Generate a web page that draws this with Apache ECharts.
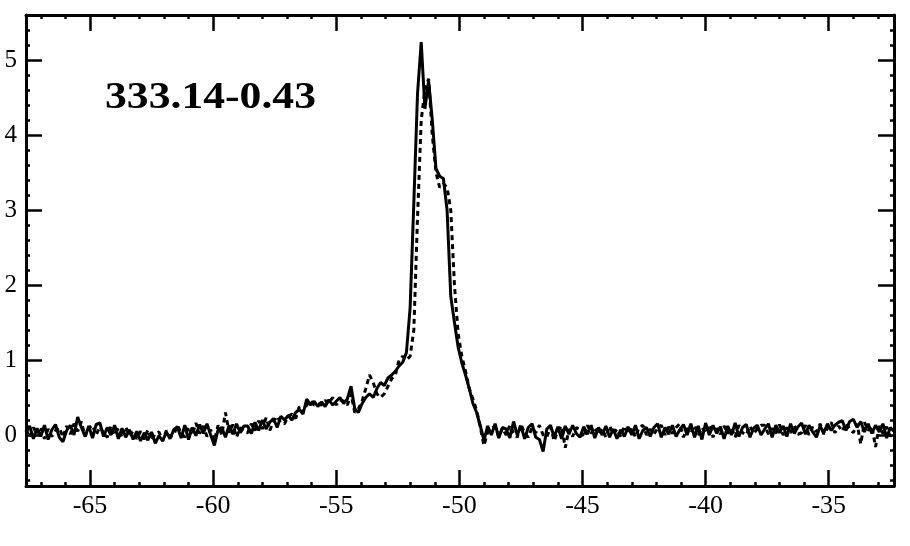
<!DOCTYPE html>
<html>
<head>
<meta charset="utf-8">
<script src="https://cdn.jsdelivr.net/npm/echarts@6/dist/echarts.min.js"></script>
<style>
html,body{margin:0;padding:0;background:#fff;}
#chart{width:910px;height:546px;}
</style>
</head>
<body>
<div id="chart"></div>
<script>
// Channel axis (km/s): first channel and channel width
const velStart = -67.6;
const velStep = 0.15;

// Solid spectrum (one row = 10 channels = 1.5 km/s)
const solidValues = [
  0.03, 0.12, -0.05, 0.09, -0.02, 0.13, -0.06, 0.07, 0.14, -0.03,
  -0.09, 0.06, 0.13, 0.0, 0.24, 0.1, -0.02, 0.12, -0.04, 0.14,
  0.16, -0.02, 0.1, 0.0, 0.13, -0.05, 0.09, -0.03, 0.07, -0.06,
  0.05, -0.08, 0.03, -0.07, 0.04, -0.11, -0.01, -0.08, 0.04, -0.05,
  0.07, 0.11, -0.04, 0.13, -0.06, 0.1, -0.01, 0.14, 0.02, 0.15,
  0.0, -0.14, 0.07, 0.1, -0.03, 0.13, 0.01, 0.15, 0.03, 0.12,
  0.12, 0.02, 0.17, 0.06, 0.2, 0.08, 0.17, 0.22, 0.1, 0.25,
  0.2, 0.26, 0.2, 0.3, 0.34, 0.28, 0.48, 0.4, 0.45, 0.38,
  0.44, 0.38, 0.47, 0.4, 0.45, 0.5, 0.42, 0.48, 0.65, 0.35,
  0.3, 0.42, 0.5, 0.55, 0.5, 0.62, 0.7, 0.66, 0.76, 0.8,
  0.85, 0.92, 0.97, 1.1, 1.7, 3.1, 4.55, 5.24, 4.35, 4.72,
  4.2, 3.55, 3.45, 3.42, 3.0, 1.85, 1.5, 1.17, 0.96, 0.8,
  0.62, 0.42, 0.3, 0.12, -0.07, 0.12, 0.0, 0.15, -0.04, 0.1,
  0.08, -0.04, 0.18, 0.0, 0.12, -0.05, 0.1, 0.15, -0.03, -0.06,
  -0.22, 0.08, 0.13, -0.03, 0.11, -0.05, 0.12, 0.01, 0.13, 0.02,
  -0.03, 0.11, 0.01, 0.13, -0.04, 0.1, 0.0, 0.12, -0.03, 0.08,
  -0.05, 0.07, -0.02, 0.11, 0.0, 0.13, -0.05, 0.06, 0.1, -0.02,
  0.1, 0.15, -0.03, 0.1, 0.01, 0.13, -0.02, 0.07, 0.14, 0.0,
  0.15, -0.03, 0.12, -0.06, 0.16, 0.0, 0.13, 0.02, 0.11, -0.05,
  0.12, 0.0, 0.16, -0.02, 0.1, 0.14, -0.03, 0.09, 0.13, 0.0,
  0.08, 0.15, -0.03, 0.13, 0.03, 0.12, -0.02, 0.15, 0.02, 0.11,
  0.16, 0.01, 0.13, 0.04, -0.03, 0.12, 0.03, 0.15, 0.06, 0.13,
  0.17, 0.19, 0.06, 0.18, 0.21, 0.1, 0.18, 0.04, 0.15, 0.02,
  0.13, 0.04, 0.15, -0.04, 0.1, 0.05
];

// Dotted spectrum (same channels)
const dottedValues = [
  0.07, -0.03, 0.1, 0.01, 0.11, -0.05, 0.08, -0.02, 0.06, 0.1,
  -0.03, 0.12, 0.01, 0.15, 0.05, 0.18, -0.02, 0.09, 0.13, 0.0,
  0.11, 0.03, -0.03, 0.12, 0.0, 0.09, -0.03, 0.11, -0.01, 0.05,
  -0.05, 0.05, -0.06, 0.07, -0.07, 0.02, 0.04, -0.08, 0.06, -0.02,
  0.0, 0.13, 0.03, -0.03, 0.11, 0.0, 0.16, 0.02, 0.12, -0.02,
  0.07, -0.08, 0.13, 0.0, 0.3, 0.03, 0.14, -0.03, 0.1, 0.04,
  0.03, 0.15, 0.06, 0.19, 0.08, 0.23, 0.06, 0.18, 0.25, 0.16,
  0.15, 0.25, 0.28, 0.22, 0.38, 0.3, 0.4, 0.46, 0.4, 0.42,
  0.4, 0.46, 0.42, 0.5, 0.4, 0.47, 0.45, 0.4, 0.55, 0.3,
  0.35, 0.45, 0.62, 0.8, 0.7, 0.55, 0.5, 0.55, 0.65, 0.75,
  0.8, 1.0, 1.05, 1.0, 1.05, 1.4, 2.9, 4.2, 4.6, 4.75,
  4.0, 3.5, 3.3, 3.35, 3.3, 3.0, 2.0, 1.35, 1.05, 0.85,
  0.62, 0.48, 0.33, 0.1, -0.14, 0.04, 0.08, 0.12, -0.02, 0.09,
  0.0, 0.13, 0.03, -0.03, 0.15, 0.02, -0.03, 0.1, 0.03, 0.13,
  0.0, -0.03, 0.11, -0.08, 0.06, 0.12, -0.17, 0.08, -0.02, 0.1,
  0.07, -0.03, 0.13, 0.02, 0.1, 0.0, 0.08, -0.03, 0.12, 0.01,
  0.08, -0.02, 0.12, 0.01, 0.09, -0.03, 0.1, 0.13, 0.0, 0.08,
  0.01, 0.09, 0.13, 0.0, 0.11, 0.02, 0.1, 0.15, -0.03, 0.09,
  0.03, 0.13, 0.0, 0.1, 0.02, 0.14, -0.03, 0.09, 0.01, 0.12,
  0.02, 0.1, -0.03, 0.13, 0.03, 0.0, 0.12, 0.02, 0.08, 0.13,
  0.13, 0.01, 0.09, 0.02, 0.14, 0.0, 0.1, 0.03, 0.13, 0.01,
  0.03, 0.13, 0.0, 0.11, 0.04, 0.15, 0.01, 0.09, 0.17, 0.03,
  0.12, 0.05, 0.16, 0.08, 0.03, 0.15, -0.12, 0.17, 0.06, 0.12,
  -0.16, 0.12, 0.02, 0.11, -0.02, 0.08
];

// Axis ranges and tick labels
const xRange = [-67.6, -32.35];
const yRange = [-0.68, 5.6];
const xMajorTicks = [-65, -60, -55, -50, -45, -40, -35];
const yMajorTicks = [0, 1, 2, 3, 4, 5];
const xMinorStep = 1;
const yMinorStep = 0.2;
const titleText = '333.14-0.43';

// ---- build ----
const velocities = solidValues.map((_, i) => +(velStart + i * velStep).toFixed(3));
const solidData = velocities.map((v, i) => [v, solidValues[i]]);
const dottedData = velocities.map((v, i) => [v, dottedValues[i]]);

function steps(lo, hi, step) {
  const out = [];
  const s = Math.ceil(lo / step - 1e-9);
  for (let k = s; k * step <= hi + 1e-9; k++) out.push(+(k * step).toFixed(4));
  return out;
}
const xMinorTicks = steps(xRange[0], xRange[1], xMinorStep);
const yMinorTicks = steps(yRange[0], yRange[1], yMinorStep);

const FONT = '"Liberation Serif", "Times New Roman", serif';
const LINE = { show: true, onZero: false, lineStyle: { color: '#000', width: 3 } };
const NOLINE = { show: false, onZero: false };

function axisDef(kind, pos, ticks, len, withLabels, withLine) {
  const range = kind === 'x' ? xRange : yRange;
  return {
    type: 'value', position: pos, min: range[0], max: range[1],
    axisLine: withLine ? LINE : NOLINE,
    splitLine: { show: false },
    axisTick: { show: true, inside: true, length: len, customValues: ticks, lineStyle: { color: '#000', width: 2.5 } },
    axisLabel: withLabels
      ? { show: true, customValues: ticks, color: '#000', fontFamily: FONT, fontSize: kind === 'x' ? 26 : 25, margin: kind === 'x' ? 7 : 9 }
      : { show: false }
  };
}

const option = {
  animation: false,
  backgroundColor: '#fff',
  graphic: [{
    type: 'text', left: 105, top: 80, scaleX: 1.18,
    style: { text: titleText, font: 'bold 37px "Liberation Serif", serif', fill: '#000' }
  }],
  grid: { left: 26, right: 16, top: 15, bottom: 60, containLabel: false },
  xAxis: [
    axisDef('x', 'bottom', xMajorTicks, 16, true, true),
    axisDef('x', 'top', xMajorTicks, 16, false, true),
    axisDef('x', 'bottom', xMinorTicks, 4, false, false),
    axisDef('x', 'top', xMinorTicks, 4, false, false)
  ],
  yAxis: [
    axisDef('y', 'left', yMajorTicks, 16, true, true),
    axisDef('y', 'right', yMajorTicks, 16, false, true),
    axisDef('y', 'left', yMinorTicks, 4, false, false),
    axisDef('y', 'right', yMinorTicks, 4, false, false)
  ],
  series: [
    {
      type: 'line', name: 'dotted', xAxisIndex: 0, yAxisIndex: 0,
      data: dottedData, showSymbol: false, symbol: 'none',
      lineStyle: { color: '#000', width: 3, type: [5, 4] }
    },
    {
      type: 'line', name: 'solid', xAxisIndex: 0, yAxisIndex: 0,
      data: solidData, showSymbol: false, symbol: 'none',
      lineStyle: { color: '#000', width: 3 }
    }
  ]
};

const chart = echarts.init(document.getElementById('chart'), null, { renderer: 'canvas' });
chart.setOption(option);
</script>
</body>
</html>
